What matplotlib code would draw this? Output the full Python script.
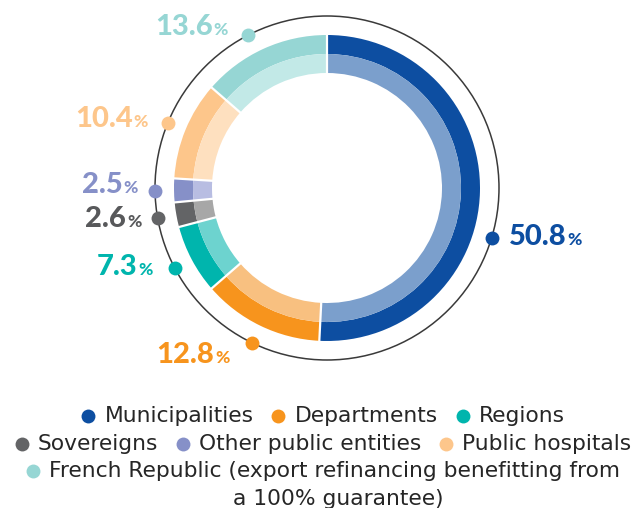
import numpy as np
import matplotlib
matplotlib.use('Agg')
from matplotlib import pyplot as plt
from matplotlib.patches import Circle

# data
categories = ['Municipalities', 'Departments', 'Regions', 'Sovereigns',
              'Other public entities', 'Public hospitals',
              'French Republic (export refinancing benefitting from\na 100% guarantee)']
shares = [50.8, 12.8, 7.3, 2.6, 2.5, 10.4, 13.6]
share_labels = ['50.8', '12.8', '7.3', '2.6', '2.5', '10.4', '13.6']
dark = ['#0d4ea1', '#f7941d', '#00b5ad', '#636466', '#8690c8', '#fdc68b', '#96d6d4']
light = ['#7b9fcc', '#f8c080', '#6dd3cf', '#a7a7a7', '#b8bde2', '#fee0bf', '#c2e9e7']
label_colors = ['#0d4ea1', '#f7941d', '#00b5ad', '#58595b', '#8690c8', '#fdc68b', '#96d6d4']
legend_rows = [[0, 1, 2], [3, 4, 5], [6]]

# layout (pixels, image coordinates: y grows downward)
W, H = 641, 508
CX, CY = 327, 188
R_OUT, R_MID, R_IN = 153, 134, 115
R_RING = 172
dot_shift = [15.5, 0, 0, 0, 0, 0, -2.8]          # degrees, clockwise
label_off = [(17, 7), (-22, 20), (-22, 7), (-16, 9), (-17, 2), (-20, 4), (-20, 0)]
TEXT = '#262626'

fig = plt.figure(figsize=(W / 100, H / 100), dpi=100)
ax = fig.add_axes([0, 0, 1, 1])
cy = H - CY

ax.pie(shares, radius=R_OUT, center=(CX, cy), startangle=90, counterclock=False,
       colors=dark, wedgeprops=dict(width=R_OUT - R_MID, linewidth=0))
ax.pie(shares, radius=R_MID, center=(CX, cy), startangle=90, counterclock=False,
       colors=light, wedgeprops=dict(width=R_MID - R_IN, linewidth=0))

# white separators between segments
bounds = np.concatenate([[0], np.cumsum(shares)])
for b in bounds[:-1]:
    th = np.radians(90 - 3.6 * b)
    ax.plot([CX + (R_IN - 1) * np.cos(th), CX + (R_OUT + 1) * np.cos(th)],
            [cy + (R_IN - 1) * np.sin(th), cy + (R_OUT + 1) * np.sin(th)],
            color='white', lw=1.6, solid_capstyle='butt', zorder=3)

ax.add_patch(Circle((CX, cy), R_RING, fill=False, ec='#3a3a3a', lw=1.1, zorder=2))

ax.set_xlim(0, W)
ax.set_ylim(0, H)
ax.set_aspect('auto')
ax.axis('off')

renderer = fig.canvas.get_renderer()

def width(t):
    return t.get_window_extent(renderer).width

# dots and value labels
mids = bounds[:-1] + np.array(shares) / 2
for i, m in enumerate(mids):
    th = np.radians(90 - 3.6 * m - dot_shift[i])
    dx, dy = CX + R_RING * np.cos(th), cy + R_RING * np.sin(th)
    ax.scatter([dx], [dy], s=100, color=dark[i], zorder=4, linewidths=0)
    ox, oy = label_off[i]
    tx, ty = dx + ox, dy - oy
    kw = dict(va='baseline', color=label_colors[i], family='Lato', weight='black')
    if ox > 0:
        n = ax.text(tx, ty, share_labels[i], ha='left', fontsize=21, **kw)
        ax.text(tx + width(n) + 1, ty, '%', ha='left', fontsize=12.5, **kw)
    else:
        p = ax.text(tx, ty, '%', ha='right', fontsize=12.5, **kw)
        ax.text(tx - width(p) - 1, ty, share_labels[i], ha='right', fontsize=21, **kw)

# legend, flowing text lines
LEG_FS = 15.7
GAP = 25
baselines = [422, 450, 477, 505]
for r, row in enumerate(legend_rows):
    items = []
    for i in row:
        first = categories[i].split('\n')[0]
        t = ax.text(0, H - baselines[r], first, ha='left', va='baseline',
                    fontsize=LEG_FS, color=TEXT, family='DejaVu Sans')
        items.append((i, t, width(t)))
    total = sum(16 + w for _, _, w in items) + GAP * (len(items) - 1) + 7
    x = 323 - total / 2 + 7
    for i, t, w in items:
        ax.scatter([x], [H - baselines[r] + 6], s=100, color=dark[i], linewidths=0)
        t.set_x(x + 16)
        x += 16 + w + GAP
    if '\n' in categories[row[-1]]:
        t = items[-1][1]
        start = t.get_position()[0]
        ax.text(start + items[-1][2] / 2 + 4, H - baselines[r + 1],
                categories[row[-1]].split('\n')[1], ha='center', va='baseline',
                fontsize=LEG_FS, color=TEXT, family='DejaVu Sans')

fig.savefig('out.png', dpi=100)
